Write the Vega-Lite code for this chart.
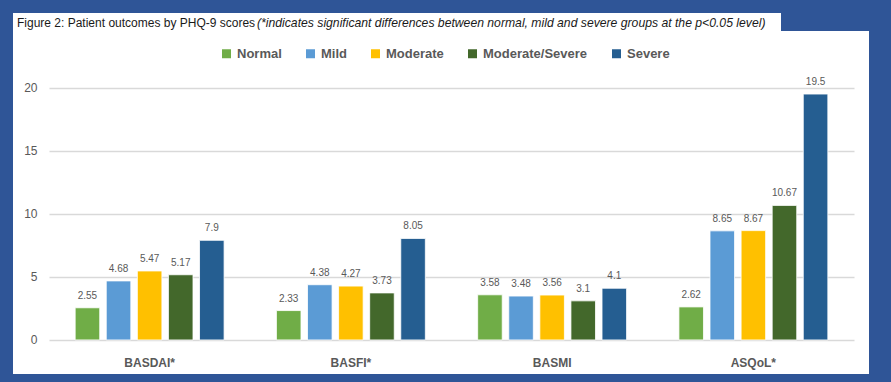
{
  "$schema": "https://vega.github.io/schema/vega-lite/v6.json",
  "background": "#2F5597",
  "padding": {"left": 13, "top": 13, "right": 22, "bottom": 8},
  "spacing": 0,
  "config": {"view": {"stroke": null}, "concat": {"spacing": 0}},
  "vconcat": [
    {
      "width": 768,
      "height": 18,
      "view": {"fill": "#FFFFFF", "stroke": null},
      "data": {"values": [{"t1": "Figure 2: Patient outcomes by PHQ-9 scores", "t2": "(*indicates significant differences between normal, mild and severe groups at the p<0.05 level)"}]},
      "layer": [
        {"mark": {"type": "text", "align": "left", "baseline": "middle", "font": "Liberation Sans", "fontSize": 12, "color": "#1a1a1a", "x": 4, "y": 10}, "encoding": {"text": {"field": "t1"}}},
        {"mark": {"type": "text", "align": "left", "baseline": "middle", "font": "Liberation Sans", "fontSize": 12.2, "fontStyle": "italic", "color": "#1a1a1a", "x": 244, "y": 10}, "encoding": {"text": {"field": "t2"}}}
      ]
    },
    {
      "width": 856,
      "height": 343,
      "view": {"fill": "#FFFFFF", "stroke": null},
      "data": {"values": [
        {"measure": "BASDAI*", "group": "Normal", "value": 2.55},
        {"measure": "BASDAI*", "group": "Mild", "value": 4.68},
        {"measure": "BASDAI*", "group": "Moderate", "value": 5.47},
        {"measure": "BASDAI*", "group": "Moderate/Severe", "value": 5.17},
        {"measure": "BASDAI*", "group": "Severe", "value": 7.9},
        {"measure": "BASFI*", "group": "Normal", "value": 2.33},
        {"measure": "BASFI*", "group": "Mild", "value": 4.38},
        {"measure": "BASFI*", "group": "Moderate", "value": 4.27},
        {"measure": "BASFI*", "group": "Moderate/Severe", "value": 3.73},
        {"measure": "BASFI*", "group": "Severe", "value": 8.05},
        {"measure": "BASMI", "group": "Normal", "value": 3.58},
        {"measure": "BASMI", "group": "Mild", "value": 3.48},
        {"measure": "BASMI", "group": "Moderate", "value": 3.56},
        {"measure": "BASMI", "group": "Moderate/Severe", "value": 3.1},
        {"measure": "BASMI", "group": "Severe", "value": 4.1},
        {"measure": "ASQoL*", "group": "Normal", "value": 2.62},
        {"measure": "ASQoL*", "group": "Mild", "value": 8.65},
        {"measure": "ASQoL*", "group": "Moderate", "value": 8.67},
        {"measure": "ASQoL*", "group": "Moderate/Severe", "value": 10.67},
        {"measure": "ASQoL*", "group": "Severe", "value": 19.5}
      ]},
      "encoding": {
        "x": {
          "field": "measure", "type": "nominal",
          "sort": ["BASDAI*", "BASFI*", "BASMI", "ASQoL*"],
          "scale": {"range": [36, 841], "paddingInner": 0.26, "paddingOuter": 0.13},
          "axis": {"orient": "bottom", "offset": -12, "title": null, "labelAngle": 0, "domain": false, "ticks": false, "tickSize": 0, "labelPadding": 0, "labelBaseline": "middle", "labelFont": "Liberation Sans", "labelFontSize": 12, "labelFontWeight": "bold", "labelColor": "#595959"}
        },
        "xOffset": {
          "field": "group", "type": "nominal",
          "sort": ["Normal", "Mild", "Moderate", "Moderate/Severe", "Severe"],
          "scale": {"paddingInner": 0.21, "paddingOuter": 0}
        },
        "y": {
          "field": "value", "type": "quantitative",
          "scale": {"domain": [-2.7, 24.5], "nice": false, "zero": false},
          "axis": {"title": null, "values": [0, 5, 10, 15, 20], "offset": -24, "domain": false, "ticks": false, "tickSize": 0, "labelPadding": 0, "grid": true, "gridColor": "#D9D9D9", "gridWidth": 1.3, "labelColor": "#595959", "labelFontSize": 12, "labelFont": "Liberation Sans"}
        }
      },
      "layer": [
        {
          "mark": {"type": "bar", "stroke": "#FFFFFF", "strokeWidth": 0.8},
          "encoding": {
            "y2": {"datum": 0},
            "color": {
              "field": "group", "type": "nominal",
              "sort": ["Normal", "Mild", "Moderate", "Moderate/Severe", "Severe"],
              "scale": {"domain": ["Normal", "Mild", "Moderate", "Moderate/Severe", "Severe"], "range": ["#70AD47", "#5B9BD5", "#FFC000", "#43682B", "#255E91"]},
              "legend": {"title": null, "orient": "none", "legendX": 207, "legendY": 34, "direction": "horizontal", "symbolType": "square", "symbolSize": 81, "symbolStrokeWidth": 0, "labelFont": "Liberation Sans", "labelFontSize": 13, "labelFontWeight": "bold", "labelColor": "#595959", "labelOffset": 4, "columnPadding": 22}
            }
          }
        },
        {
          "mark": {"type": "text", "baseline": "bottom", "dy": -7, "font": "Liberation Sans", "fontSize": 10, "color": "#595959"},
          "encoding": {"text": {"field": "value", "type": "quantitative"}}
        }
      ]
    }
  ]
}
